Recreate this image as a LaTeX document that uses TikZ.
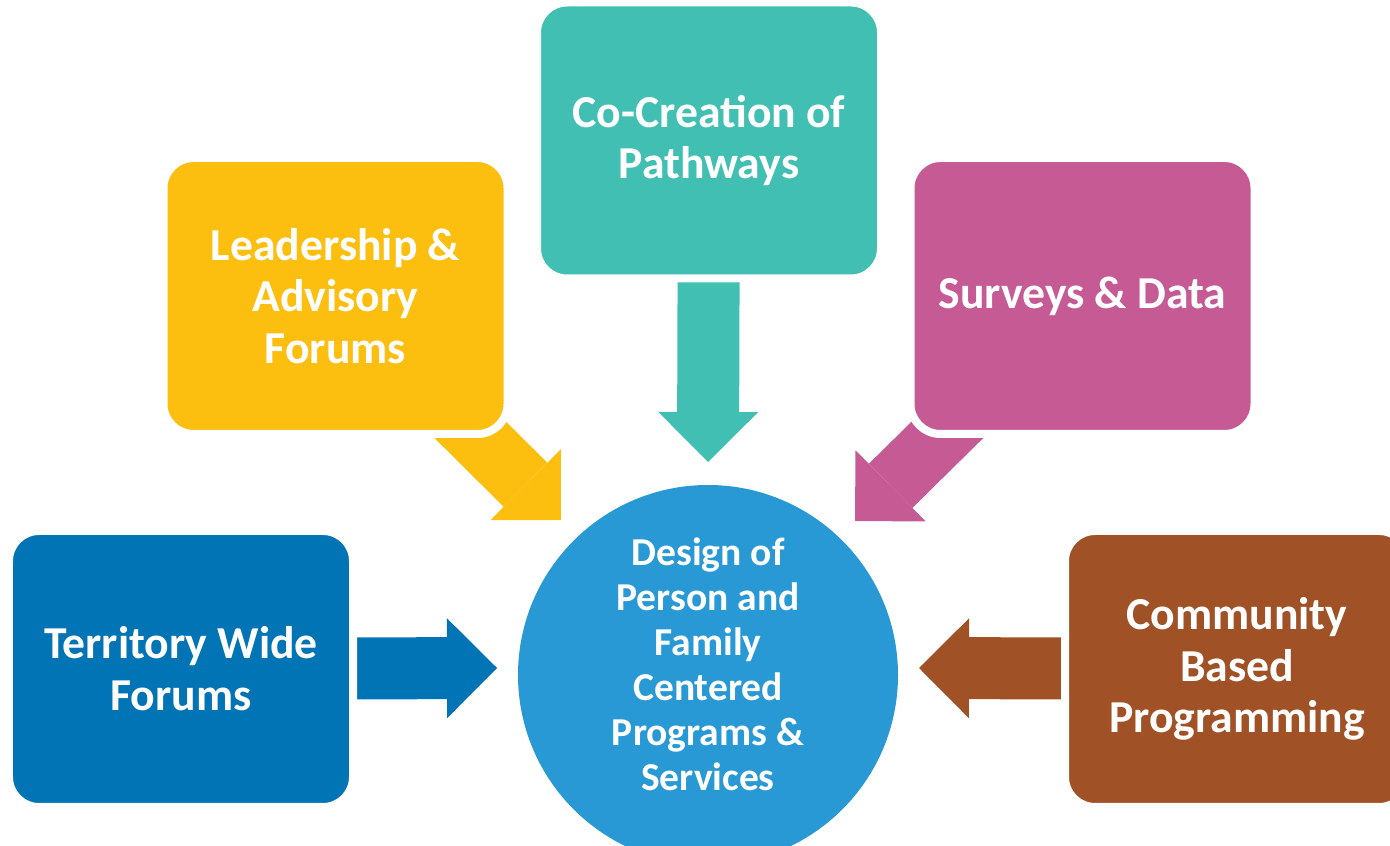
\documentclass[tikz,border=0pt]{standalone}
\usepackage{fontspec}
\setmainfont{Carlito}
\usetikzlibrary{arrows.meta, backgrounds}
\definecolor{cotel}{HTML}{41BFB3}
\definecolor{leadgold}{HTML}{FCBF10}
\definecolor{survpink}{HTML}{C55A94}
\definecolor{terrblue}{HTML}{0174B5}
\definecolor{commbrown}{HTML}{A05226}
\definecolor{hubblue}{HTML}{2899D5}

\begin{document}
\begin{tikzpicture}[
    box/.style={draw=white, line width=0.16cm, rounded corners=0.6cm,
      minimum width=6.88cm, minimum height=5.52cm, align=center, text=white,
      font=\fontsize{26}{29.5}\selectfont\bfseries},
    fatarrow/.style={line width=1.24cm, shorten <=-1cm,
      -{Triangle[length=1cm, width=2cm, line width=0pt]}}
  ]
        \useasboundingbox (0, 0) rectangle (27.8, 16.92);
        % Hub (extra text depth lifts the label a little)
        \node[circle, fill=hubblue, minimum size=7.6cm, inner sep=0pt, align=center, text=white,
          text depth=0.45cm, font=\fontsize{22.5}{25.6}\selectfont\bfseries]
          (HUB) at (14.16, 3.42) {Design of\\Person and\\Family\\Centered\\Programs \&\\Services};
        % Inputs
        \node[box, fill=cotel] (COCR) at (14.18, 14.11) {Co-Creation of\\Pathways};
        \node[box, fill=leadgold] (LEAD) at (6.71, 11.0) {Leadership \&\\Advisory\\Forums};
        \node[box, fill=survpink] (SURV) at (21.65, 11.0) {Surveys \& Data};
        \node[box, fill=terrblue] (TERR) at (3.62, 3.54) {Territory Wide\\Forums};
        \node[box, fill=commbrown] (COMM) at (24.74, 3.54) {Community\\Based\\Programming};
        % Arrow tips, just short of the hub
        \coordinate (tCOCR) at (14.16, 7.68);
        \coordinate (tLEAD) at (11.22, 6.52);
        \coordinate (tSURV) at (17.10, 6.50);
        \coordinate (tTERR) at (9.94, 3.56);
        \coordinate (tCOMM) at (18.38, 3.56);
        % Fat arrows tucked under the boxes
        \begin{scope}[on background layer]
          \draw[fatarrow, cotel] (COCR) -- (tCOCR);
          \draw[fatarrow, leadgold] (LEAD) -- (tLEAD);
          \draw[fatarrow, survpink] (SURV) -- (tSURV);
          \draw[fatarrow, terrblue] (TERR) -- (tTERR);
          \draw[fatarrow, commbrown] (COMM) -- (tCOMM);
        \end{scope}
      \end{tikzpicture}
\end{document}
